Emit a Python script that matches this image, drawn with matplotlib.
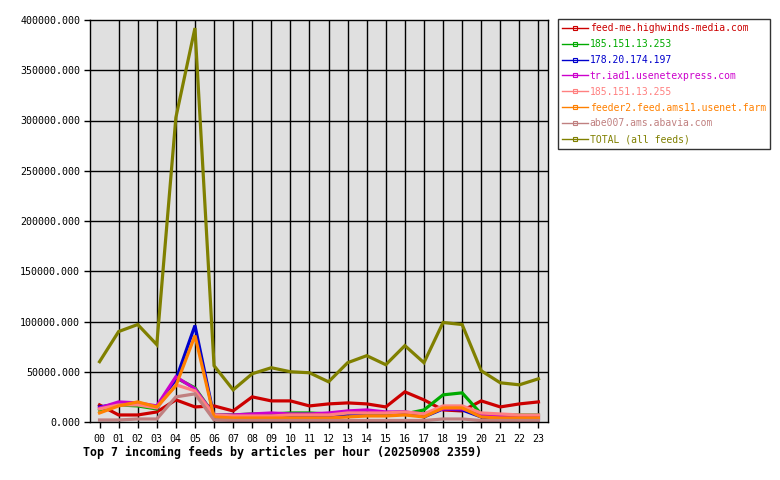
import matplotlib

matplotlib.use("Agg")
import matplotlib.pyplot as plt
from matplotlib.lines import Line2D

HOURS = [f"{h:02d}" for h in range(24)]

FEEDS = [
    "feed-me.highwinds-media.com",
    "185.151.13.253",
    "178.20.174.197",
    "tr.iad1.usenetexpress.com",
    "185.151.13.255",
    "feeder2.feed.ams11.usenet.farm",
    "abe007.ams.abavia.com",
    "TOTAL (all feeds)",
]
COLORS = ["#cc0000", "#00aa00", "#0000cc", "#cc00cc",
          "#ff8080", "#ff8000", "#c08080", "#808000"]

highwinds = [17000, 7000, 7000, 10000, 22000, 15000, 16000, 11000, 25000, 21000, 21000, 16000,
             18000, 19000, 18000, 15000, 30000, 22000, 12000, 11000, 21000, 15000, 18000, 20000]
ip_253 = [12000, 17000, 16000, 13000, 44000, 34000, 7000, 7000, 8000, 8000, 9000, 9000,
          8000, 8000, 8000, 8000, 8000, 12000, 27000, 29000, 8000, 7000, 7000, 7000]
ip_197 = [15000, 18000, 18000, 14000, 42000, 96000, 5000, 5000, 5000, 5000, 5000, 5000,
          5000, 8000, 9000, 9000, 10000, 5000, 13000, 12000, 5000, 3000, 3000, 3000]
usenetexpress = [14000, 20000, 19000, 16000, 45000, 33000, 7000, 7000, 8000, 9000, 8000, 8000,
                 9000, 11000, 12000, 10000, 10000, 8000, 13000, 13000, 8000, 6000, 6000, 6000]
ip_255 = [13000, 17000, 17000, 14000, 37000, 31000, 7000, 6000, 6000, 6000, 7000, 7000,
          7000, 9000, 9000, 9000, 10000, 8000, 16000, 16000, 9000, 8000, 7000, 7000]
usenet_farm = [9000, 16000, 20000, 15000, 36000, 86000, 5000, 4000, 4000, 4000, 4000, 4000,
               4000, 5000, 6000, 6000, 7000, 5000, 14000, 14000, 5000, 4000, 4000, 4000]
abavia = [2000, 2000, 3000, 3000, 25000, 28000, 2000, 1500, 1500, 1500, 1500, 1500,
          1500, 1500, 1500, 1500, 1500, 1500, 3000, 3000, 1500, 1500, 1500, 1500]
total = [60000, 90000, 97000, 77000, 303000, 392000, 56000, 32000, 48000, 54000, 50000, 49000,
         40000, 59000, 66000, 57000, 76000, 59000, 99000, 97000, 51000, 39000, 37000, 43000]

SERIES = [highwinds, ip_253, ip_197, usenetexpress, ip_255, usenet_farm, abavia, total]

MONO = "DejaVu Sans Mono"

fig = plt.figure(figsize=(7.8, 4.8), dpi=100)
fig.patch.set_facecolor("white")
ax = fig.add_axes([90 / 780, 58 / 480, 458 / 780, 402 / 480])
ax.set_facecolor("#e0e0e0")

x = list(range(len(HOURS)))
for values, color in zip(SERIES, COLORS):
    ax.plot(x, values, color=color, linewidth=2.3, solid_joinstyle="miter")

ax.set_xlim(-0.5, 23.5)
ax.set_ylim(0, 400000)
ax.set_xticks(x)
ax.set_xticklabels(HOURS, fontsize=7.2, family=MONO)
ax.set_yticks(range(0, 400001, 50000))
ax.set_yticklabels([f"{v}.000" for v in range(0, 400001, 50000)], fontsize=7.2, family=MONO)
ax.tick_params(direction="out", length=4, width=1, color="black", pad=3)
ax.tick_params(axis="x", pad=5)

for h in x[1:]:
    ax.axvline(h, color="black", linewidth=1, zorder=0.5)
for v in range(50000, 400000, 50000):
    ax.axhline(v, color="black", linewidth=1, zorder=0.5)
for spine in ax.spines.values():
    spine.set_color("black")
    spine.set_linewidth(1)

handles = [Line2D([], [], color=c, linewidth=1, marker="s", markersize=3,
                  markerfacecolor="none", markeredgewidth=0.8) for c in COLORS]
leg = fig.legend(handles, FEEDS, loc="upper left", bbox_to_anchor=(558 / 780, 1 - 19 / 480),
                 prop={"family": MONO, "size": 7.0}, frameon=True, fancybox=False,
                 edgecolor="black", handlelength=2.6, handletextpad=0.2,
                 labelspacing=0.6, borderpad=0.45, borderaxespad=0)
leg.get_frame().set_linewidth(1)
for text, color in zip(leg.get_texts(), COLORS):
    text.set_color(color)

fig.text(83 / 780, 1 - 452 / 480, "Top 7 incoming feeds by articles per hour (20250908 2359)",
         family=MONO, fontsize=8.4, fontweight="bold", va="center", ha="left")

fig.savefig("out.png", dpi=100)
